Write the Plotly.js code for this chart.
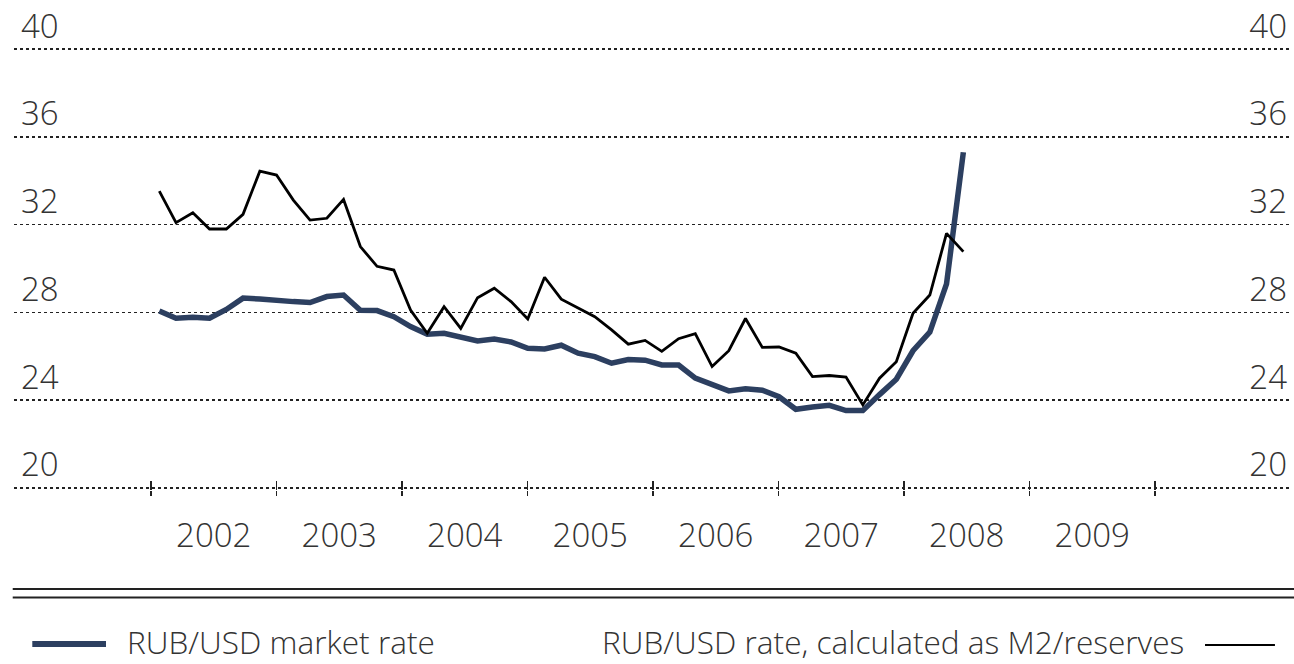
<!DOCTYPE html>
<html>
<head>
<meta charset="utf-8">
<script src="https://cdn.plot.ly/plotly-3.0.1.min.js"></script>
<style>
  html, body { margin: 0; padding: 0; background: #ffffff; }
  #chart { width: 1294px; height: 664px; }
</style>
</head>
<body>
<div id="chart"></div>
<script>
const dates = [
  2002.066, 2002.199, 2002.333, 2002.466, 2002.600, 2002.733, 2002.867, 2003.000,
  2003.134, 2003.267, 2003.401, 2003.534, 2003.668, 2003.801, 2003.935, 2004.068,
  2004.201, 2004.335, 2004.468, 2004.602, 2004.735, 2004.869, 2005.002, 2005.136,
  2005.269, 2005.403, 2005.536, 2005.670, 2005.803, 2005.937, 2006.070, 2006.204,
  2006.337, 2006.471, 2006.604, 2006.737, 2006.871, 2007.004, 2007.138, 2007.271,
  2007.405, 2007.538, 2007.672, 2007.805, 2007.939, 2008.072, 2008.206, 2008.339,
  2008.473
];

// RUB/USD market rate
const marketRate = [
  28.06, 27.73, 27.78, 27.73, 28.13, 28.65, 28.61, 28.52,
  28.49, 28.45, 28.72, 28.79, 28.10, 28.08, 27.80, 27.35,
  27.00, 27.05, 26.90, 26.70, 26.78, 26.65, 26.36, 26.33,
  26.50, 26.14, 25.98, 25.68, 25.85, 25.82, 25.60, 25.60,
  25.00, 24.72, 24.42, 24.52, 24.45, 24.15, 23.58, 23.68,
  23.76, 23.52, 23.52, 24.25, 24.95, 26.25, 27.10, 29.30,
  35.30
];

// RUB/USD rate, calculated as M2/reserves
const m2Rate = [
  33.53, 32.09, 32.54, 31.80, 31.80, 32.47, 34.44, 34.26,
  33.12, 32.21, 32.29, 33.15, 31.00, 30.10, 29.93, 28.11,
  27.05, 28.26, 27.27, 28.67, 29.10, 28.49, 27.70, 29.60,
  28.60, 28.20, 27.80, 27.20, 26.55, 26.72, 26.22, 26.80,
  27.03, 25.53, 26.25, 27.72, 26.40, 26.42, 26.14, 25.07,
  25.12, 25.05, 23.78, 25.00, 25.75, 27.96, 28.79, 31.60,
  30.77
];

// Axis ticks and labels
const yTicks = [20, 24, 28, 32, 36, 40];
const yearBoundaries = [2002, 2003, 2004, 2005, 2006, 2007, 2008, 2009, 2010];
const yearLabelPos = [2002.5, 2003.5, 2004.5, 2005.5, 2006.5, 2007.5, 2008.5, 2009.5];
const yearLabels = ['2002', '2003', '2004', '2005', '2006', '2007', '2008', '2009'];
const seriesNames = ['RUB/USD market rate', 'RUB/USD rate, calculated as M2/reserves'];

const blue = '#2c3f60';
const ink = '#333333';
const FONT = '"Open Sans", "Noto Sans", sans-serif';
const xRange = [2000.908, 2011.076];
const yRange = [19.9, 40.1];

const traces = [
  {
    x: dates, y: marketRate, name: seriesNames[0],
    type: 'scatter', mode: 'lines',
    line: { color: blue, width: 5.5 },
    xaxis: 'x', yaxis: 'y', showlegend: false
  },
  {
    x: dates, y: m2Rate, name: seriesNames[1],
    type: 'scatter', mode: 'lines',
    line: { color: '#000000', width: 2.8 },
    xaxis: 'x2', yaxis: 'y2', showlegend: false
  }
];

const tickFont = { family: FONT, size: 33, color: ink, weight: 300 };
const legendFont = { family: FONT, size: 31.6, color: ink, weight: 300 };

const layout = {
  width: 1294, height: 664,
  margin: { l: 14, r: 4, t: 47, b: 174 },
  paper_bgcolor: '#ffffff', plot_bgcolor: '#ffffff',
  showlegend: false,
  xaxis: {
    range: xRange, fixedrange: true,
    tickmode: 'array', tickvals: yearLabelPos, ticktext: yearLabels,
    ticks: '', showgrid: false, zeroline: false, showline: false,
    tickfont: tickFont, ticklabelstandoff: 23,
    minor: {
      tickmode: 'array', tickvals: yearBoundaries,
      ticks: 'outside', ticklen: 5, tickwidth: 1.3, tickcolor: '#222', showgrid: false
    }
  },
  xaxis2: {
    range: xRange, overlaying: 'x', anchor: 'y', fixedrange: true,
    tickmode: 'array', tickvals: yearBoundaries,
    ticks: 'inside', ticklen: 9, tickwidth: 1.3, tickcolor: '#222',
    showticklabels: false, showgrid: false, zeroline: false, showline: false
  },
  yaxis: {
    range: yRange, fixedrange: true,
    tickmode: 'array', tickvals: yTicks,
    ticks: '', showgrid: true, gridcolor: '#222', gridwidth: 1.4, griddash: 'dot',
    zeroline: false, showline: false,
    ticklabelposition: 'inside top', ticklabeloverflow: 'allow',
    ticklabelstandoff: 4,
    tickfont: tickFont
  },
  yaxis2: {
    range: yRange, overlaying: 'y', side: 'right', anchor: 'x', fixedrange: true,
    tickmode: 'array', tickvals: yTicks,
    ticks: '', showgrid: false, zeroline: false, showline: false,
    ticklabelposition: 'inside top', ticklabeloverflow: 'allow',
    tickfont: tickFont
  },
  shapes: [
    { type: 'line', xref: 'paper', yref: 'paper', x0: -0.001, x1: 1.004, y0: -0.2235, y1: -0.2235,
      line: { color: '#222', width: 2 } },
    { type: 'line', xref: 'paper', yref: 'paper', x0: -0.001, x1: 1.004, y0: -0.2425, y1: -0.2425,
      line: { color: '#222', width: 2 } },
    { type: 'line', xref: 'paper', yref: 'paper', x0: 0.01434, x1: 0.0721, y0: -0.3476, y1: -0.3476,
      line: { color: blue, width: 6 } },
    { type: 'line', xref: 'paper', yref: 'paper', x0: 0.9334, x1: 0.9882, y0: -0.3499, y1: -0.3499,
      line: { color: '#000', width: 2 } }
  ],
  annotations: [
    { xref: 'paper', yref: 'paper', x: 0.08777, y: -0.3431, xanchor: 'left', yanchor: 'middle',
      text: seriesNames[0], showarrow: false, borderpad: 0, font: legendFont },
    { xref: 'paper', yref: 'paper', x: 0.9177, y: -0.3431, xanchor: 'right', yanchor: 'middle',
      text: seriesNames[1], showarrow: false, borderpad: 0, font: legendFont }
  ]
};

Plotly.newPlot('chart', traces, layout, { displayModeBar: false, staticPlot: true });
</script>
</body>
</html>
